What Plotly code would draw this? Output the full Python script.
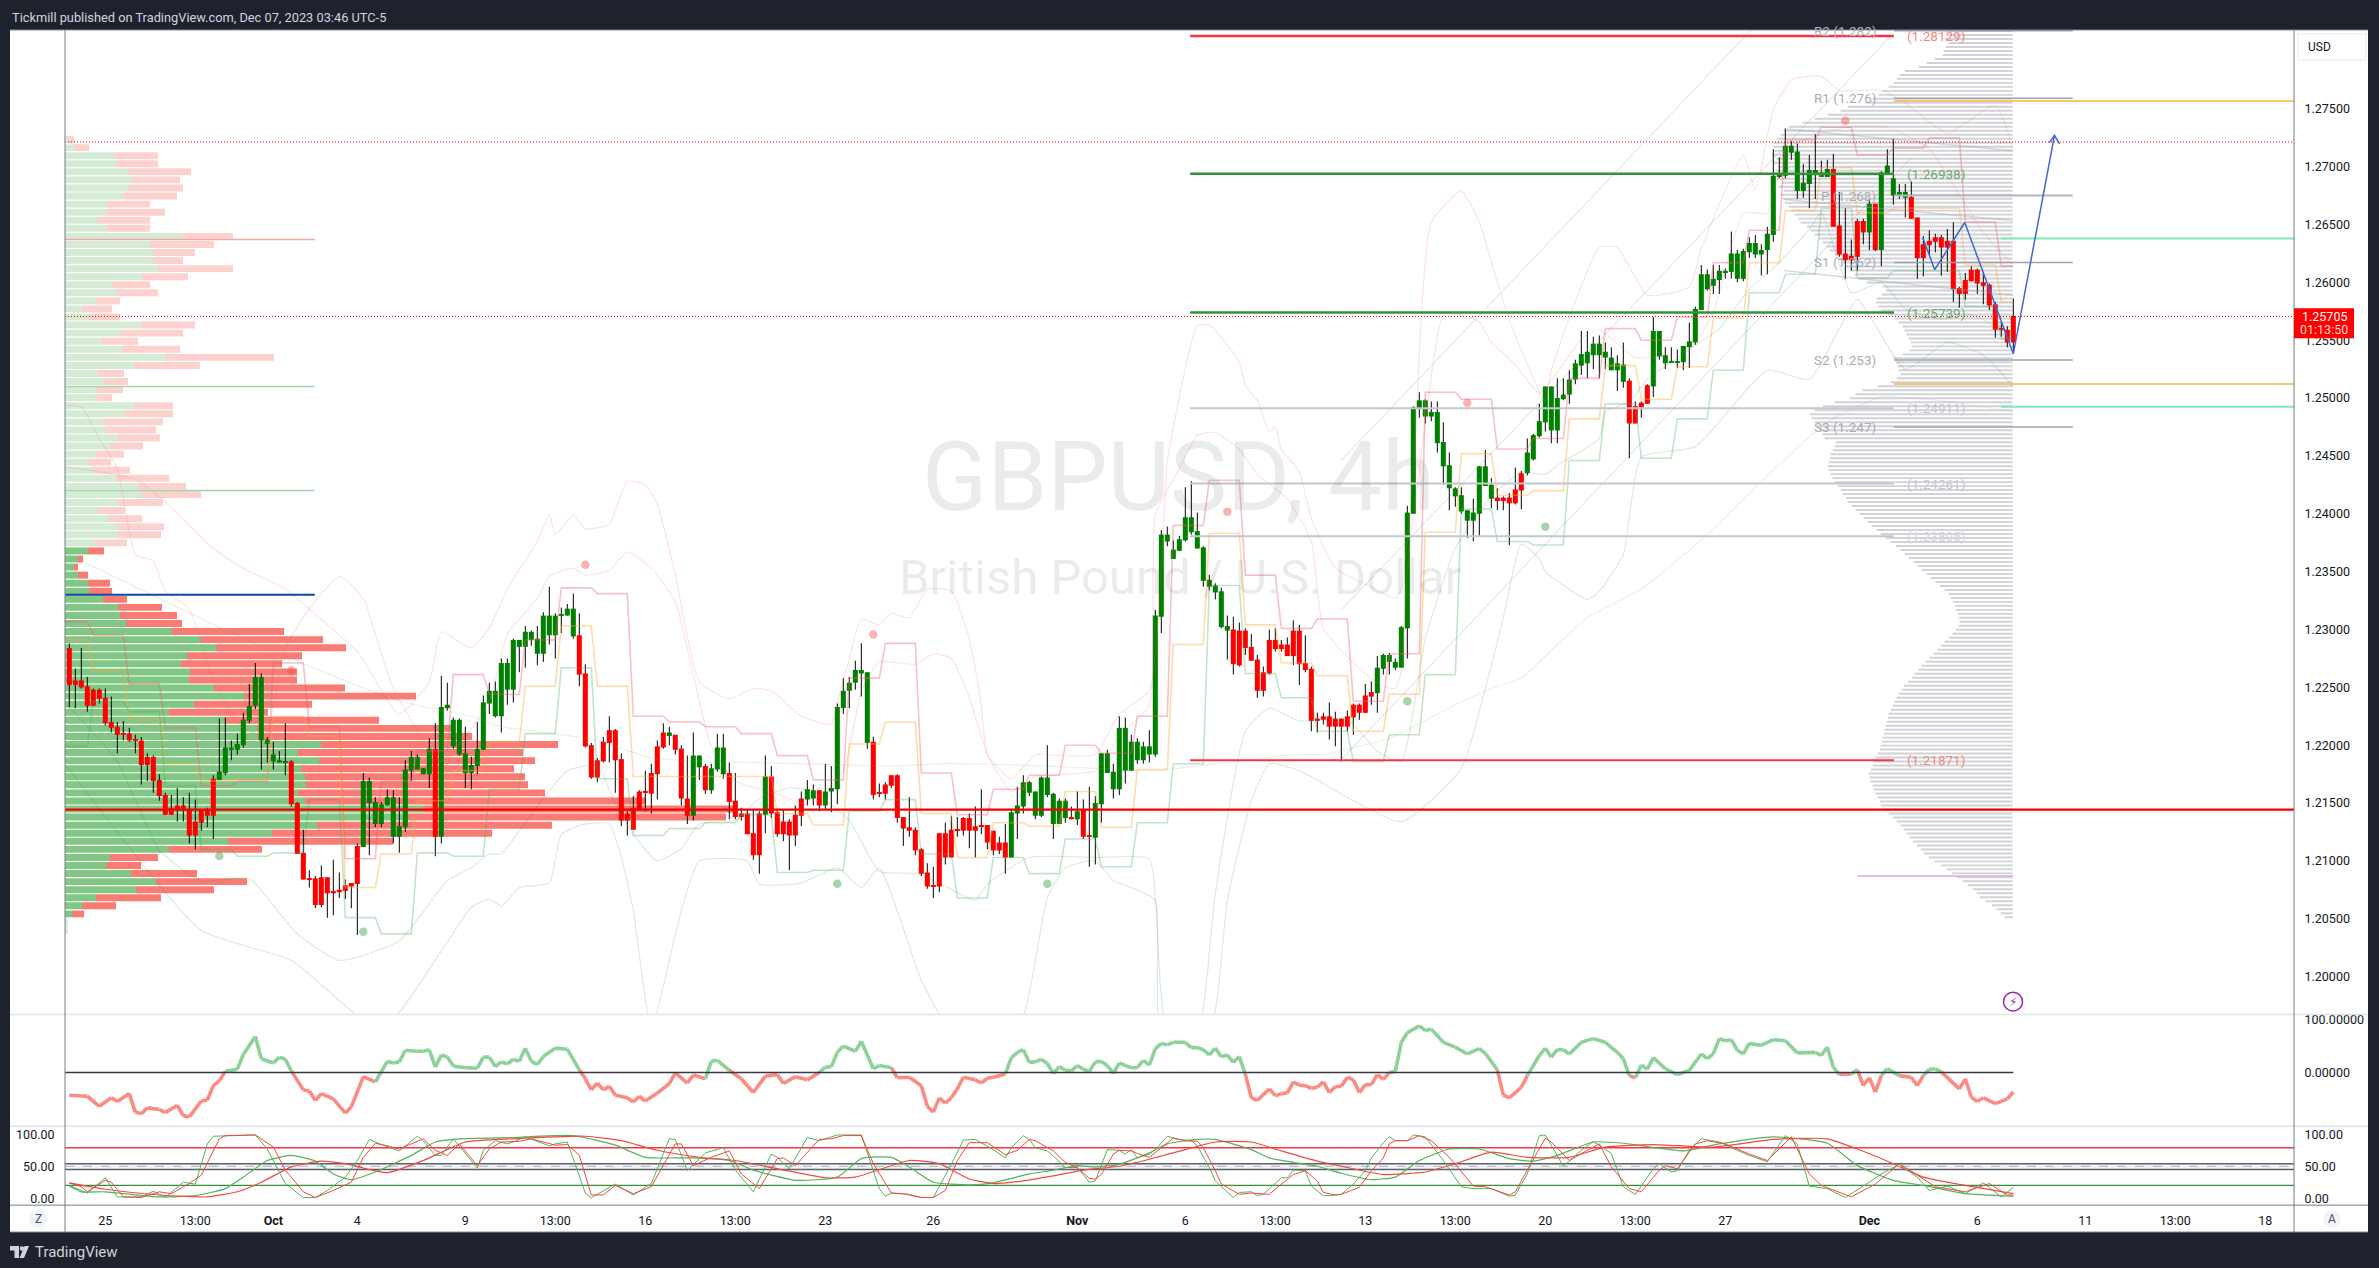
import plotly.graph_objects as go

W, H = 2379, 1268

# ---------- candles, in pips (price x 10000), one bar per 4 hours ----------
body_top = [
12284,12256,12256,12251,12248,12248,12241,12220,12216,12210,12210,12205,12204,12190,12190,12170,12157,12146,12148,12148,12144,12134,12144,12144,12171,
12177,12198,12198,12201,12222,12234,12259,12259,12205,12192,12187,12186,12186,12150,12107,12085,12085,12086,12086,12074,12075,12079,12081,12113,12169,
12169,12151,12149,12155,12155,12130,12179,12190,12190,12180,12197,12197,12233,12235,12222,12222,12193,12183,12197,12237,12247,12247,12271,12271,12291,
12291,12298,12298,12292,12312,12312,12312,12313,12318,12318,12295,12262,12200,12187,12203,12213,12213,12188,12141,12146,12160,12160,12176,12199,12211,
12211,12209,12197,12154,12191,12191,12182,12180,12198,12198,12176,12152,12141,12141,12124,12141,12173,12173,12142,12134,12134,12140,12154,12162,12161,
12161,12160,12163,12233,12247,12254,12265,12265,12263,12203,12159,12166,12174,12174,12138,12129,12127,12110,12090,12079,12124,12124,12127,12127,12137,
12137,12130,12131,12131,12126,12116,12116,12142,12148,12168,12168,12160,12172,12172,12158,12152,12152,12138,12143,12144,12122,12150,12193,12193,12177,
12215,12215,12203,12203,12199,12199,12312,12382,12382,12369,12378,12397,12397,12385,12371,12343,12338,12333,12303,12300,12299,12299,12285,12274,12263,
12291,12291,12287,12287,12299,12299,12271,12266,12223,12225,12225,12223,12223,12225,12235,12235,12243,12246,12267,12278,12278,12272,12302,12401,12492,
12498,12498,12488,12488,12462,12442,12422,12416,12403,12401,12441,12441,12425,12414,12414,12414,12421,12435,12453,12468,12480,12510,12510,12500,12503,
12516,12530,12538,12540,12547,12547,12540,12535,12530,12529,12515,12493,12496,12511,12558,12558,12537,12532,12532,12545,12549,12577,12607,12607,12603,
12610,12610,12625,12625,12627,12634,12634,12628,12642,12692,12694,12718,12718,12713,12686,12697,12697,12695,12698,12698,12649,12625,12623,12653,12653,
12668,12668,12695,12701,12690,12678,12678,12674,12656,12633,12636,12639,12639,12636,12636,12595,12602,12611,12611,12600,12598,12581,12560,12559,12571]
body_bot = [
12252,12252,12250,12234,12234,12240,12219,12215,12209,12209,12204,12204,12183,12183,12169,12156,12140,12140,12144,12144,12122,12122,12133,12139,12139,
12170,12176,12196,12196,12200,12221,12234,12204,12201,12186,12185,12185,12149,12106,12084,12084,12062,12062,12072,12072,12073,12074,12078,12080,12112,
12150,12132,12132,12148,12121,12121,12129,12178,12179,12175,12175,12121,12121,12232,12199,12192,12176,12176,12182,12196,12236,12225,12225,12248,12248,
12285,12285,12291,12279,12279,12295,12295,12312,12312,12294,12261,12199,12172,12172,12186,12202,12187,12135,12135,12127,12144,12159,12158,12175,12198,
12208,12196,12154,12139,12139,12181,12161,12161,12179,12175,12151,12138,12138,12123,12105,12105,12140,12141,12123,12123,12122,12122,12139,12153,12154,
12148,12148,12160,12162,12232,12247,12254,12262,12202,12157,12158,12158,12165,12137,12128,12126,12109,12089,12078,12078,12078,12103,12103,12126,12126,
12126,12126,12130,12116,12109,12109,12103,12103,12141,12147,12159,12139,12139,12157,12132,12132,12137,12136,12136,12121,12121,12120,12149,12176,12162,
12162,12178,12178,12187,12187,12192,12192,12311,12376,12361,12368,12377,12384,12370,12342,12337,12332,12302,12299,12270,12269,12284,12273,12247,12247,
12262,12283,12283,12277,12277,12270,12265,12221,12221,12222,12216,12216,12216,12216,12224,12228,12228,12242,12245,12266,12272,12267,12267,12301,12400,
12491,12484,12484,12461,12441,12422,12415,12402,12394,12394,12400,12424,12413,12411,12411,12409,12409,12420,12435,12447,12467,12479,12472,12472,12499,
12503,12516,12528,12530,12537,12537,12535,12524,12524,12514,12478,12478,12492,12495,12510,12536,12530,12531,12531,12531,12544,12548,12576,12594,12597,
12602,12608,12609,12603,12603,12626,12624,12624,12628,12641,12691,12692,12712,12679,12679,12685,12693,12691,12691,12648,12624,12619,12619,12622,12643,
12643,12628,12628,12694,12675,12675,12673,12655,12621,12621,12632,12635,12630,12630,12594,12590,12590,12601,12599,12597,12580,12559,12559,12548,12548]
wick_high = [
12288,12266,12284,12259,12249,12249,12249,12242,12220,12221,12215,12209,12207,12193,12191,12175,12159,12157,12163,12155,12159,12153,12144,12146,12174,
12223,12224,12204,12210,12228,12253,12271,12262,12207,12203,12195,12219,12187,12151,12127,12092,12087,12096,12086,12101,12090,12084,12081,12115,12176,
12172,12155,12151,12162,12161,12155,12187,12195,12192,12180,12206,12219,12260,12254,12224,12223,12216,12190,12220,12243,12254,12255,12275,12275,12292,
12291,12303,12299,12303,12315,12337,12314,12319,12322,12331,12314,12270,12202,12189,12207,12225,12214,12193,12143,12156,12161,12178,12184,12204,12219,
12216,12209,12200,12191,12211,12191,12184,12184,12210,12210,12185,12176,12146,12144,12144,12143,12191,12182,12144,12144,12136,12148,12160,12170,12166,
12161,12184,12182,12236,12258,12259,12273,12288,12263,12207,12167,12168,12174,12175,12138,12155,12129,12111,12098,12095,12124,12133,12139,12138,12138,
12141,12147,12162,12131,12126,12121,12132,12144,12164,12174,12169,12160,12173,12200,12159,12154,12154,12147,12160,12153,12164,12156,12193,12196,12184,
12225,12224,12209,12206,12203,12213,12317,12386,12389,12377,12381,12423,12428,12401,12372,12347,12340,12336,12312,12311,12306,12301,12296,12278,12268,
12300,12301,12291,12293,12308,12304,12295,12268,12228,12228,12237,12229,12223,12230,12236,12236,12253,12255,12277,12279,12280,12275,12303,12407,12493,
12505,12499,12497,12497,12479,12453,12423,12423,12403,12413,12441,12455,12431,12422,12415,12418,12440,12437,12465,12469,12495,12510,12510,12517,12517,
12524,12533,12558,12558,12553,12554,12548,12544,12537,12548,12517,12497,12497,12512,12570,12558,12544,12544,12542,12545,12565,12579,12615,12611,12615,
12615,12612,12644,12628,12629,12639,12641,12633,12648,12715,12708,12733,12722,12720,12702,12710,12728,12705,12706,12711,12678,12664,12637,12655,12655,
12672,12668,12696,12715,12724,12685,12685,12687,12656,12640,12645,12642,12641,12646,12652,12596,12608,12614,12612,12609,12599,12583,12566,12562,12586]
wick_low = [
12233,12232,12249,12229,12234,12236,12217,12211,12193,12204,12203,12193,12166,12169,12159,12152,12140,12140,12134,12134,12115,12110,12126,12129,12119,
12170,12174,12187,12192,12198,12219,12231,12179,12185,12179,12185,12174,12147,12106,12084,12077,12059,12060,12051,12053,12068,12067,12059,12036,12112,
12105,12129,12129,12148,12115,12107,12125,12169,12179,12175,12163,12104,12115,12230,12197,12191,12163,12162,12175,12196,12227,12224,12211,12235,12237,
12263,12267,12286,12269,12272,12287,12275,12297,12312,12292,12251,12198,12171,12168,12185,12185,12159,12130,12122,12127,12144,12143,12141,12153,12197,
12200,12192,12148,12132,12135,12170,12158,12158,12177,12171,12136,12136,12135,12123,12101,12089,12124,12137,12121,12117,12092,12113,12130,12148,12148,
12143,12145,12142,12149,12227,12232,12248,12242,12197,12153,12155,12153,12163,12133,12113,12121,12105,12087,12076,12068,12073,12097,12103,12121,12122,
12111,12103,12123,12110,12105,12106,12089,12103,12119,12141,12156,12136,12138,12155,12119,12132,12133,12136,12131,12119,12095,12097,12133,12176,12154,
12157,12167,12178,12184,12184,12185,12190,12297,12372,12361,12368,12376,12382,12370,12337,12334,12326,12301,12274,12261,12268,12278,12273,12241,12242,
12261,12281,12281,12277,12269,12252,12263,12212,12211,12218,12205,12199,12186,12212,12209,12222,12228,12235,12228,12261,12261,12265,12267,12275,12400,
12483,12478,12480,12453,12425,12403,12406,12400,12379,12376,12381,12424,12405,12403,12403,12373,12408,12404,12433,12446,12466,12471,12461,12461,12498,
12495,12512,12520,12517,12525,12517,12525,12524,12506,12509,12448,12478,12483,12495,12501,12533,12525,12531,12526,12524,12526,12546,12576,12593,12590,
12590,12603,12603,12600,12601,12621,12621,12606,12607,12635,12690,12690,12706,12672,12673,12664,12672,12691,12691,12648,12622,12603,12610,12610,12633,
12628,12627,12614,12694,12667,12672,12656,12655,12603,12605,12624,12626,12606,12609,12583,12578,12585,12601,12590,12581,12576,12552,12553,12544,12540]
candle_colors = (
"RRRRRRRRRRRRRRRRRRRRRRRRR"
"GGGGGGGGGGGGRRRRRRRRRRRRG"
"GGGGGGGGGGGRGGGGGGGGGGGGG"
"GGGGGGGGGGRRRRRRRRRRRRRRR"
"GRRRGGRGGGRRRRRRGRRRRRRGG"
"RGGGGGGGGRRRRRRRRRRRRRRRR"
"RRRRRRRGGGGGGGGGGRGRRGGGG"
"GGGGGGGGGGGGGGGGGGGRRRRRR"
"RRRRRRRRRRRRRRRRRRGGGGGGG"
"GGGGGGGGGGGGGRRRRRGGGGGGG"
"GGGGGGGGGGRRRRGGGGGGGGGGG"
"GGGGGGGGGGGGGGGGGGGRRRRRR"
"GRGGGGGRRRRRRRRRRRRRRRRRR")

# ---------- daily step levels, in pips, one level per 6 bars ----------
step_starts = [-2] + list(range(4, 323, 6))
step_high = [12307,12295,12253,12215,12165,12169,12271,12216,12102,12169,12195,12261,12244,12291,12336,12331,12225,12220,12216,12210,12191,12170,12258,12288,12176,12140,12162,12174,12200,12193,12225,12390,12429,12347,12301,12309,12238,12279,12505,12499,12456,12465,12517,12560,12550,12570,12617,12645,12723,12734,12710,12716,12725,12652,12614]
step_mid = [12291,12264,12222,12184,12169,12171,12225,12208,12077,12106,12152,12178,12203,12251,12303,12251,12173,12173,12173,12173,12141,12131,12201,12220,12141,12103,12133,12130,12160,12129,12179,12287,12383,12304,12271,12260,12212,12244,12384,12452,12416,12420,12482,12528,12499,12527,12569,12617,12662,12699,12660,12664,12664,12615,12583]
step_low = [12199,12238,12229,12165,12110,12104,12107,12153,12051,12037,12107,12104,12162,12210,12267,12171,12122,12128,12133,12140,12090,12092,12143,12153,12106,12068,12103,12089,12119,12095,12133,12184,12338,12262,12241,12212,12186,12209,12261,12404,12376,12373,12446,12495,12448,12482,12524,12591,12607,12664,12604,12610,12610,12579,12551]

# ---------- envelope curves: bar index and level in pips ----------
upper_outer_bars = [-1,11,16,24,29,36,41,48,55,60,62,67,70,73,78,80,81,84,86,90,93,96,98,101,105,110,114,117,122,127,128,130,132,135,137,140,143,147,150,152,153,157,161,165,171,175,180,182,183,186,188,190,193,195,196,198,200,201,202,205,207,211,216,221,222,224,227,232,235,238,241,243,246,247,255,258,263,270,272,279,281,284,287,292,295,302,306,313,321,324]
upper_outer_vals = [12441,12430,12410,12370,12353,12335,12313,12281,12227,12255,12298,12284,12301,12335,12376,12399,12382,12399,12387,12391,12428,12425,12408,12347,12255,12240,12249,12247,12225,12218,12238,12275,12309,12304,12314,12310,12335,12333,12292,12235,12192,12171,12192,12191,12192,12227,12247,12350,12445,12525,12563,12563,12546,12531,12511,12498,12471,12475,12456,12436,12396,12353,12339,12327,12335,12436,12652,12679,12652,12600,12554,12529,12497,12524,12630,12630,12589,12596,12629,12710,12680,12749,12775,12778,12766,12766,12755,12729,12753,12714]
upper_inner_bars = [-1,2,5,8,11,14,16,20,24,32,36,40,45,49,51,54,62,70,73,78,80,84,86,90,93,97,101,104,107,111,118,123,129,132,135,141,144,147,150,153,157,161,171,175,180,181,185,188,191,195,198,203,207,209,215,219,221,222,223,225,229,232,235,237,241,245,248,252,255,261,270,274,279,283,286,296,303,310,319,324]
upper_inner_vals = [12494,12492,12465,12439,12365,12359,12333,12318,12255,12195,12284,12318,12346,12327,12296,12249,12186,12238,12296,12327,12346,12353,12347,12351,12367,12353,12324,12261,12199,12169,12158,12149,12178,12247,12272,12270,12279,12275,12241,12192,12160,12173,12178,12208,12234,12399,12439,12468,12470,12456,12434,12413,12376,12301,12266,12251,12249,12264,12350,12436,12572,12572,12566,12548,12529,12504,12522,12551,12559,12535,12542,12574,12660,12660,12715,12734,12734,12715,12643,12615]
lower_inner_bars = [-1,8,15,22,30,33,38,45,55,63,67,70,72,75,79,83,88,91,94,98,102,105,111,115,120,124,130,135,141,146,151,153,160,171,180,181,183,188,191,196,200,205,213,218,222,226,231,237,242,246,248,255,256,260,263,270,275,280,285,290,292,297,302,306,312,317,324]
lower_inner_vals = [12238,12186,12109,12083,12085,12068,12037,12014,12031,12083,12094,12106,12106,12126,12154,12178,12182,12149,12123,12100,12111,12132,12135,12154,12163,12160,12135,12091,12089,12078,12066,12080,12103,12103,12102,12068,11954,11954,12072,12212,12232,12221,12222,12195,12186,12292,12370,12415,12436,12434,12442,12465,12488,12497,12516,12542,12560,12594,12617,12646,12660,12591,12600,12577,12568,12572,12553]
lower_outer_bars = [-1,22,37,52,62,67,70,72,75,80,82,86,90,92,94,97,100,102,105,113,115,122,128,132,135,142,147,158,163,166,171,174,177,181,182,190,193,197,200,205,222,232,236,239,242,245,246,253,255,259,262,271,283,290,295,298,306,313,319,324]
lower_outer_vals = [12186,12040,12014,11954,12022,12060,12067,12061,12077,12081,12123,12132,12132,12103,12057,11954,12014,12057,12100,12100,12080,12081,12094,12077,12094,11997,11954,11954,12068,12094,12100,12083,12077,12066,11954,11954,12066,12152,12184,12178,12134,12180,12249,12310,12374,12361,12350,12326,12333,12365,12449,12458,12524,12516,12560,12585,12525,12548,12537,12510]
basis_bars = [-1,30,55,67,72,81,88,97,105,122,137,146,163,181,191,205,209,220,231,237,242,248,253,262,273,282,293,302,313,324]
basis_vals = [12367,12290,12238,12225,12216,12210,12204,12189,12186,12184,12182,12184,12182,12178,12184,12192,12192,12206,12235,12249,12258,12287,12310,12335,12382,12428,12479,12501,12497,12488]

# ---------- pivot dots ----------
red_dot_bars = [37,86,134,193,233,296]
red_dot_prices = [1.22647,1.23560,1.22957,1.24017,1.24957,1.27397]
green_dot_bars = [25,49,128,163,223,246]
green_dot_prices = [1.21043,1.20388,1.20802,1.20802,1.22379,1.23888]

# ---------- volume profiles ----------
profile_green = [3,9,50,52,64,67,64,58,42,42,32,42,118,85,88,88,93,77,47,52,32,17,24,77,55,37,
57,101,69,33,39,31,32,69,59,38,40,53,45,30,23,29,51,72,76,53,33,43,53,52,29,
23,13,9,13,23,24,38,
53,55,61,107,136,151,122,116,125,124,149,179,129,104,161,192,192,256,233,254,236,240,241,233,240,358,342,252,207,163,104,45,41,66,91,71,31,17,7,3,3]
profile_total = [9,24,93,93,126,115,118,112,85,100,85,85,168,149,130,118,168,123,85,93,55,47,55,130,118,73,
115,209,135,59,63,58,47,108,108,98,91,95,78,59,46,65,104,121,136,98,60,77,99,96,62,
39,18,13,23,45,47,62,
97,112,117,219,258,281,237,217,232,232,280,351,247,203,314,388,407,493,458,470,449,460,463,480,581,668,661,487,427,328,197,93,76,132,182,149,96,51,19,3,3]
profile_pale_rows = set(list(range(51)) + [97, 98])

gray_profile = [67,66,68,64,67,69,70, 78,86,94, 108,113,116,119, 124,130,134,140,147, 165,172,185,198,210,224,
229,232,236,239, 240,238,241,236,239,235,237,233,236,231,234,229,232,230,228,
224,222,218,214,212,206,202,198,194,190, 186,183,178,175,170,166,162,158,154,146,130,
127,131,136,137,134,132, 125,118,114,110,108,106,104,102,101,103, 110,119,117,115,114,112,116,122,135,
150,157,163,178,190,198,203, 201,198,196,193,190,188, 177,178,180,182,183,184,185,184,182,180,178,175,172,170,167,165,
161,157,153,149,145,141,136,132, 127,122,117,112,108,104,99, 95,91,86,82,77,73,68,64, 62,60,58,57,55,54,53,
54,57,60,64,68,72,75,79, 83,87,91,94,98,101,105,109, 111,114,116,118,120,122,124, 125,126,127,128,129,130,131,132,
133,135,137,139,140,142,144, 143,142,140,139,137,135,133,132, 128,124,120,116,112,109, 106,103,100,96,92,89,
84,78,72,66,61,56, 50,45,40,36,33, 27,21,16,12,8]

# ---------- price levels: price, from bar, to bar, colour, width ----------
levels = [
 (1.28129,186.8,304.1,"#f23645",2.5),(1.26938,186.8,304.1,"#388e3c",2.5),(1.25739,186.8,304.1,"#388e3c",2.5),
 (1.24911,186.8,304.1,"#c4c6cc",2),(1.24261,186.8,304.1,"#c4c6cc",2),(1.23805,186.8,304.1,"#c4c6cc",2),
 (1.21871,186.8,304.1,"#f23645",2),
 (1.28175,304.1,333.9,"#a0a3ad",1.5),(1.27591,304.1,333.9,"#a0a3ad",1.5),(1.26750,304.1,333.9,"#b2b5be",2),
 (1.26172,304.1,333.9,"#a0a3ad",1.5),(1.25328,304.1,333.9,"#a0a3ad",1.5),(1.24750,304.1,333.9,"#a0a3ad",1.5),
 (1.27566,304.1,370.8,"#ffb13d",1.5),(1.25121,304.1,370.8,"#ffb13d",1.5),
 (1.26379,322.0,370.8,"#7fe8b5",2),(1.24925,322.0,370.8,"#7fe8b5",2),
 (1.20870,298.0,324.0,"#d6a6e0",1.5),
 (1.26370,-0.7,40.9,"#f4a6a0",1.5),(1.25100,-0.7,40.9,"#a5d6a7",1.5),(1.24200,-0.7,40.9,"#a5d6a7",1.5),
 (1.23300,-0.7,40.9,"#0d47a1",2),
 (1.21443,-0.7,370.8,"#f50000",2.3),
]
level_labels = [
 ("R2 (1.282)",301.4,1.28175,"right","#b2b5be"),("R1 (1.276)",301.4,1.27591,"right","#a9acb6"),
 ("P (1.268)",301.4,1.26750,"right","#a9acb6"),("S1 (1.262)",301.4,1.26172,"right","#a9acb6"),
 ("S2 (1.253)",301.4,1.25328,"right","#a9acb6"),("S3 (1.247)",301.4,1.24750,"right","#a9acb6"),
 ("(1.28129)",306,1.28129,"left","#f5877f"),("(1.26938)",306,1.26938,"left","#6aa86d"),
 ("(1.25739)",306,1.25739,"left","#6aa86d"),("(1.24911)",306,1.24911,"left","#c4c6cc"),
 ("(1.24261)",306,1.24261,"left","#c4c6cc"),("(1.23805)",306,1.23805,"left","#d5d6db"),
 ("(1.21871)",306,1.21871,"left","#f5877f"),
]
trend_lines = [
 ((211.9,280.3),(1.24457,1.28181)),((211.9,303.6),(1.23164,1.28129)),((211.9,307.0),(1.21871,1.27078)),
]
fall_lines = [
 ((285.8,323.9),(1.27328,1.27138)),((285.8,323.9),(1.26716,1.26534)),((285.8,323.9),(1.26103,1.25888)),
]
path_bars = [308.9,310.9,315.9,324.0,330.86]
path_prices = [1.26388,1.26109,1.26517,1.25382,1.27270]
arrow_bars = [330.0,330.86,331.7]
arrow_prices = [1.27207,1.27270,1.27196]

# ---------- first oscillator ----------
osc_bars = [0,3,5,7,8,10,11,12,13,15,16,18,19,20,22,23,24,25,26,28,29,31,32,34,35,36,37,39,40,41,42,44,46,47,49,51,53,54,55,56,58,59,60,61,62,63,64,66,68,69,70,71,72,73,74,75,76,77,78,79,81,83,85,86,87,88,89,90,91,93,94,95,96,98,100,101,103,104,106,107,108,110,112,114,116,118,119,121,123,125,126,127,128,129,131,132,134,135,137,138,140,142,143,144,145,146,
147,148,149,151,152,153,154,156,157,158,159,160,161,162,163,164,165,166,167,168,169,170,171,172,173,174,175,176,177,178,179,180,181,182,183,184,186,187,188,189,190,191,192,193,194,195,196,197,198,200,201,202,203,204,205,206,207,208,209,210,211,212,213,214,215,216,217,218,219,220,221,222,223,225,
226,227,229,231,233,235,236,238,239,240,242,243,245,246,247,248,249,250,252,254,256,258,259,260,261,262,263,264,266,268,270,272,273,274,275,276,277,278,279,280,282,284,286,288,291,292,293,294,295,297,298,299,300,301,302,303,305,307,308,309,310,311,312,315,316,317,318,319,321,323,324]
osc_vals = [-43,-45,-64,-48,-55,-40,-75,-78,-67,-70,-76,-62,-82,-84,-54,-52,-25,-16,2,6,34,68,26,18,29,25,3,-33,-35,-53,-40,-50,-77,-65,-8,-18,21,18,20,42,40,40,43,10,33,29,12,9,8,29,29,11,20,16,25,21,46,21,15,30,46,44,5,-12,-33,-20,-33,-26,-43,-48,-56,-45,-54,-39,-21,-1,-20,-5,-12,21,23,4,-12,-38,-7,-4,-21,-8,-14,0,10,11,38,50,40,59,7,13,9,-10,-9,-25,-64,-75,-48,-58,
-48,-31,-9,-14,-20,-11,-9,-3,28,38,43,19,20,25,17,-2,11,4,3,13,6,2,20,21,13,-2,18,13,9,9,23,14,45,55,52,57,57,47,47,43,33,46,30,33,19,30,-3,-48,-53,-31,-44,-40,-39,-18,-24,-25,-30,-28,-18,-38,-27,-26,-9,-14,-38,-23,-23,-4,-13,0,2,57,75,88,
79,82,57,48,35,45,36,5,-43,-48,-28,-6,32,46,29,43,43,35,57,64,57,38,26,-6,-10,14,6,28,7,-4,4,35,26,35,64,60,62,42,35,55,51,62,60,37,38,32,48,10,-4,-3,5,-25,-10,-37,-6,7,-6,-9,-25,-6,6,7,1,-31,-12,-47,-55,-48,-59,-50,-37]

# ---------- second oscillator ----------
fast_green_bars = [0,3,6,8,12,14,16,19,21,23,24,31,33,36,39,41,43,46,48,50,52,55,58,59,61,62,64,68,69,71,73,74,76,80,81,83,86,87,91,94,97,100,101,103,106,109,111,114,117,118,120,123,125,128,132,135,136,137,140,142,144,147,149,151,154,156,157,159,160,161,163,164,166,168,169,170,171,173,175,176,177,178,180,181,183,185,187,188,190,191,194,195,197,198,199,202,203,204,206,207,209,210,212,214,216,217,219,220,221,223,224,226,229,232,234,237,240,241,243,245,246,249,252,254,257,259,261,264,265,267,268,270,272,275,278,280,283,286,288,290,293,296,300,302,305,308,310,313,316,319,322,324]
fast_green_vals = [20,8,32,2,2,11,1,25,22,85,97,99,77,23,1,1,12,33,59,92,84,74,97,90,67,67,93,47,75,90,85,88,96,82,85,88,8,1,22,5,23,93,92,43,71,79,44,10,69,64,46,95,90,99,99,15,3,8,6,1,1,53,91,92,76,63,79,98,92,79,74,66,48,48,37,25,27,76,75,69,76,63,69,76,97,92,90,82,48,27,1,9,10,4,6,32,32,44,43,19,4,4,6,22,43,63,87,96,90,90,99,96,59,18,15,15,3,5,38,98,99,50,75,89,70,18,6,46,54,41,43,75,93,88,75,67,57,98,85,19,15,1,25,38,53,33,12,19,7,24,2,17]
fast_red_bars = [0,2,3,6,7,9,12,15,17,20,22,25,26,31,34,36,39,41,44,47,49,51,53,55,57,59,61,63,65,68,70,72,75,77,81,83,85,87,89,91,94,97,101,102,104,107,110,112,115,118,119,121,125,127,129,132,134,137,139,142,144,146,148,150,153,156,158,160,161,164,166,168,170,171,172,174,175,176,177,178,180,182,184,186,188,189,191,192,195,197,200,202,204,206,208,209,211,212,215,217,219,220,221,223,225,227,230,234,236,240,241,243,246,247,250,253,255,257,260,262,265,266,268,271,273,276,280,283,287,290,292,297,301,305,308,311,316,320,323,324]
fast_red_vals = [24,18,10,28,25,2,1,10,7,23,36,93,98,99,80,44,10,1,12,25,64,86,82,77,85,93,75,67,85,51,77,88,89,93,83,84,67,5,5,20,7,18,85,85,51,64,74,38,15,62,63,51,92,93,98,98,54,8,7,1,1,12,59,87,87,68,75,92,90,74,56,48,31,30,37,69,75,74,74,70,64,79,94,90,89,79,43,22,6,8,6,22,37,43,27,9,5,6,17,43,63,85,90,90,98,90,64,19,18,5,10,44,94,88,59,75,85,49,15,10,44,51,46,85,90,85,69,59,96,38,20,2,22,54,36,18,10,23,5,5]
slow_green_bars = [0,2,6,15,21,26,29,33,37,41,44,47,51,57,61,65,74,84,91,96,104,110,114,121,128,132,137,140,144,150,154,157,160,164,168,171,175,180,183,188,191,197,200,204,208,212,217,221,225,230,235,240,244,248,254,259,269,275,284,293,298,304,309,316,324]
slow_green_vals = [19,10,10,2,4,15,33,59,67,58,38,29,41,67,88,93,95,98,83,64,63,59,44,28,33,62,64,49,25,21,24,31,38,44,51,49,53,71,85,92,92,76,63,56,50,39,29,33,59,77,77,62,58,67,88,86,74,85,96,86,51,28,20,7,3]
slow_red_bars = [0,6,15,23,28,32,37,42,46,53,59,66,74,86,92,98,105,111,118,126,131,140,145,150,154,158,164,169,175,180,186,191,197,202,208,213,219,226,231,237,243,250,256,264,274,284,293,298,304,309,316,324]
slow_red_vals = [24,14,5,2,10,25,49,58,54,40,59,88,93,97,90,75,64,59,46,32,33,59,54,30,23,26,35,44,50,61,76,88,88,74,58,48,37,41,54,72,64,64,80,84,80,92,93,77,54,33,20,7]
stoch_levels = [(79,"#f23645",1.3,"solid"),(20,"#388e3c",1.3,"solid"),(54,"#5d606b",1.5,"solid"),(45,"#5d606b",1.5,"solid"),(50,"#b2b5be",1,"dash")]

# ---------- axis labels ----------
time_tick_bars = [6,21,34,48,66,81,96,111,126,144,168,186,201,216,231,246,261,276,300,318,336,351,366]
time_tick_text = ["25","13:00","<b>Oct</b>","4","9","13:00","16","13:00","23","26","<b>Nov</b>","6","13:00","13","13:00","20","13:00","27","<b>Dec</b>","6","11","13:00","18"]
price_ticks = [1.20,1.205,1.21,1.215,1.22,1.225,1.23,1.235,1.24,1.245,1.25,1.255,1.26,1.265,1.27,1.275]
osc_ticks = [100, 0]
stoch_ticks = [100, 50, 0]

FONT = "Roboto, Inter, sans-serif"
AX_L, AX_R = -0.72, 370.78
fx = lambda p: p / W
fy = lambda p: 1 - p / H

fig = go.Figure()

# profile rows (volume drawn in bar-width units from the chart edges)
row_low, row_step = 1.20403, 0.000697
n_rows = len(profile_green)
row_prices = [row_low + row_step * (n_rows - 1 - k) for k in range(n_rows)]
VOL_UNIT = 1 / 6
pg_c = ["#d5ebd6" if k in profile_pale_rows else "#81c784" for k in range(n_rows)]
pr_c = ["#fcd2cf" if k in profile_pale_rows else "#f87c74" for k in range(n_rows)]
fig.add_bar(orientation="h", y=row_prices, x=[v * VOL_UNIT for v in profile_green], base=AX_L,
            width=0.00060, marker=dict(color=pg_c, line_width=0))
fig.add_bar(orientation="h", y=row_prices,
            x=[(t - g) * VOL_UNIT for g, t in zip(profile_green, profile_total)],
            base=[AX_L + g * VOL_UNIT for g in profile_green],
            width=0.00060, marker=dict(color=pr_c, line_width=0))
gray_top, gray_step = 1.28172, 0.000345
gray_prices = [gray_top - gray_step * k for k in range(len(gray_profile))]
fig.add_bar(orientation="h", y=gray_prices, x=[-v * VOL_UNIT for v in gray_profile], base=323.9,
            width=0.00017, marker=dict(color="rgba(178,181,190,0.6)", line_width=0))

# candles: wicks then bodies (slight alpha keeps the 1px wick from being widened)
bars = list(range(len(body_top)))
fig.add_bar(x=bars, base=[v / 1e4 for v in wick_low],
            y=[(h - l) / 1e4 for h, l in zip(wick_high, wick_low)],
            width=1 / 6, marker=dict(color="rgba(0,0,0,0.99)", line_width=0))
fig.add_bar(x=bars, base=[v / 1e4 for v in body_bot],
            y=[max(t - b, 1) / 1e4 for t, b in zip(body_top, body_bot)],
            width=0.84, marker=dict(color=["#ff0000" if c == "R" else "#008000" for c in candle_colors], line_width=0))

def line(x, y, color, width=1, dash="solid", ya="y", smooth=False, **kw):
    ln = dict(color=color, width=width, dash=dash)
    if smooth:
        ln.update(shape="spline", smoothing=0.5)
    fig.add_scatter(x=x, y=y, mode="lines", yaxis=ya, line=ln, **kw)

# envelopes
for bx, vals, col in [(upper_outer_bars, upper_outer_vals, "rgba(255,90,90,0.17)"),
                      (upper_inner_bars, upper_inner_vals, "rgba(255,90,90,0.17)"),
                      (lower_inner_bars, lower_inner_vals, "rgba(40,140,60,0.17)"),
                      (lower_outer_bars, lower_outer_vals, "rgba(40,140,60,0.17)"),
                      (basis_bars, basis_vals, "rgba(130,160,110,0.16)")]:
    line(bx, [v / 1e4 for v in vals], col, 1.2, smooth=True)

# daily steps
for levels_, col in [(step_high, "rgba(240,90,110,0.38)"), (step_mid, "rgba(255,170,60,0.42)"), (step_low, "rgba(70,170,80,0.32)")]:
    sx, sy = [], []
    for s, v in zip(step_starts, levels_):
        sx += [s, min(s + 5, 324)]
        sy += [v / 1e4, v / 1e4]
    line(sx, sy, col, 1.6)

# drawn lines
for bx, py in trend_lines:
    line(list(bx), list(py), "rgba(120,123,134,0.28)", 1)
for bx, py in fall_lines:
    line(list(bx), list(py), "rgba(160,163,173,0.4)", 1.5)

for price, b0, b1, col, wd in levels:
    line([b0, b1], [price, price], col, wd)
for price in (1.27213, 1.25705):
    line([AX_L, AX_R], [price, price], "#ff0000", 1, "1px,2px")

line(path_bars, path_prices, "#3f67d2", 1.5)
line(arrow_bars, arrow_prices, "#3f67d2", 1.5)

fig.add_scatter(x=red_dot_bars, y=red_dot_prices, mode="markers", marker=dict(size=8.5, color="rgba(255,70,70,0.42)"))
fig.add_scatter(x=green_dot_bars, y=green_dot_prices, mode="markers", marker=dict(size=8.5, color="rgba(60,160,70,0.45)"))

# oscillator one
gx, gy, rx, ry = [], [], [], []
for k in range(len(osc_bars) - 1):
    a, b = osc_vals[k], osc_vals[k + 1]
    if a + b >= 0:
        gx += [osc_bars[k], osc_bars[k + 1], None]; gy += [a, b, None]
    else:
        rx += [osc_bars[k], osc_bars[k + 1], None]; ry += [a, b, None]
line(rx, ry, "#fb8b83", 3.6, ya="y2")
line(gx, gy, "#8fd19a", 3.6, ya="y2")
line([AX_L, 324], [0, 0], "#363a45", 1.5, ya="y2")

# oscillator two
fig.add_scatter(x=[AX_L, AX_R, AX_R, AX_L], y=[54, 54, 45, 45], yaxis="y3", mode="lines", fill="toself",
                fillcolor="rgba(120,123,170,0.09)", line=dict(width=0))
for lv, col, wd, dsh in stoch_levels:
    line([AX_L, AX_R], [lv, lv], col, wd, dsh, ya="y3")
line(slow_green_bars, slow_green_vals, "#55b259", 1.2, ya="y3", smooth=True)
line(slow_red_bars, slow_red_vals, "#f2493f", 1.2, ya="y3", smooth=True)
line(fast_green_bars, fast_green_vals, "#55b259", 1, ya="y4")
line(fast_red_bars, fast_red_vals, "#f2493f", 1, ya="y4")

# ---------- frame ----------
def rect(x0, y0, x1, y1, fill=None, lc=None, lw=0, layer="below"):
    return dict(type="rect", xref="paper", yref="paper", x0=fx(x0), x1=fx(x1), y0=fy(y0), y1=fy(y1),
                fillcolor=fill, line=dict(color=lc, width=lw) if lc else dict(width=0), layer=layer)
def seg(x0, y0, x1, y1, col, lw=1):
    return dict(type="line", xref="paper", yref="paper", x0=fx(x0), x1=fx(x1), y0=fy(y0), y1=fy(y1),
                line=dict(color=col, width=lw), layer="above")
logo = (f"M {fx(10)},{fy(1246)} H {fx(19)} V {fy(1258)} H {fx(14.5)} V {fy(1250.5)} H {fx(10)} Z "
        f"M {fx(29)},{fy(1246)} L {fx(24)},{fy(1258)} H {fx(19.5)} L {fx(24.5)},{fy(1246)} Z")
shapes = [
    rect(10, 27, 2368, 1232, "#ffffff"),
    seg(10, 1014, 2368, 1014, "#e0e3eb", 1.5), seg(10, 1126, 2368, 1126, "#e0e3eb", 1.5),
    seg(10, 1205, 2368, 1205, "#787b86", 1), seg(10, 1232, 2368, 1232, "#787b86", 1),
    seg(10, 27, 2368, 27, "#787b86", 1),
    seg(65, 27, 65, 1232, "#787b86", 1), seg(2294, 27, 2294, 1232, "#787b86", 1),
    rect(2294, 306, 2354, 336, "#ff0000", layer="above"),
    rect(2298, 31, 2366, 57, "#ffffff", "#f0f3fa", 2, layer="above"),
    dict(type="circle", xref="paper", yref="paper", x0=fx(29), x1=fx(47), y0=fy(1228), y1=fy(1210), fillcolor="#f0f3fa", line_width=0, layer="above"),
    dict(type="circle", xref="paper", yref="paper", x0=fx(2323), x1=fx(2341), y0=fy(1228), y1=fy(1210), fillcolor="#f0f3fa", line_width=0, layer="above"),
    dict(type="circle", xref="paper", yref="paper", x0=fx(2003.5), x1=fx(2022.5), y0=fy(1010.5), y1=fy(991.5), fillcolor="#ffffff", line=dict(color="#9c27b0", width=1.5), layer="above"),
    dict(type="path", path=logo, xref="paper", yref="paper", fillcolor="#d1d4dc", line_width=0, layer="above"),
    dict(type="circle", xref="paper", yref="paper", x0=fx(19.8), x1=fx(24.2), y0=fy(1250.6), y1=fy(1246.2), fillcolor="#d1d4dc", line_width=0, layer="above"),
]

def note(px_x, px_y, text, size, color, anchor="left", family=FONT):
    return dict(xref="paper", yref="paper", x=fx(px_x), y=fy(px_y), text=text, showarrow=False, xanchor=anchor,
                yanchor="middle", font=dict(size=size, color=color, family=family))
annotations = [
    note(10, 15, "Tickmill published on TradingView.com, Dec 07, 2023 03:46 UTC-5", 12.8, "#d1d4dc"),
    note(33, 1252, "TradingView", 15, "#d1d4dc"),
    note(38, 1219, "Z", 12, "#50535e", "center"),
    note(2332, 1219, "A", 12, "#50535e", "center"),
    note(2319, 44, "USD", 12, "#131722", "center"),
    note(2324, 314, "1.25705", 12.5, "#ffffff", "center"),
    note(2324, 327, "01:13:50", 12.5, "#ffd6d6", "center"),
    note(2013, 1001, "⚡", 12, "#9c27b0", "center", "DejaVu Sans"),
    note(1178, 475, "GBPUSD, 4h", 96, "rgba(42,46,57,0.095)", "center", "Roboto"),
    note(1180, 576, "British Pound / U.S. Dollar", 49, "rgba(42,46,57,0.095)", "center", "Roboto"),
]
for txt, bx, price, anc, col in level_labels:
    annotations.append(dict(x=bx, y=price, xref="x", yref="y", text=txt, showarrow=False, xanchor=anc, yanchor="middle",
                            font=dict(size=13.5, color=col, family=FONT)))

def yaxis(dom, rng, vals, fmt, side="right", **kw):
    return dict(domain=dom, range=rng, tickmode="array", tickvals=vals, ticktext=[fmt % v for v in vals], side=side,
                showgrid=False, zeroline=False, showline=False, ticks="outside", ticklen=7, tickcolor="rgba(0,0,0,0)",
                tickfont=dict(size=12.5, color="#131722", family=FONT), anchor="x", **kw)

fig.update_layout(
    width=W, height=H, autosize=False, margin=dict(l=0, r=0, t=0, b=0, pad=0),
    paper_bgcolor="#1e222d", plot_bgcolor="rgba(0,0,0,0)", showlegend=False, barmode="overlay", hovermode=False,
    xaxis=dict(domain=[fx(65), fx(2294)], range=[AX_L, AX_R], tickmode="array", tickvals=time_tick_bars, ticktext=time_tick_text,
               showgrid=False, zeroline=False, showline=False, ticks="outside", ticklen=4, tickcolor="rgba(0,0,0,0)",
               tickangle=0, tickfont=dict(size=12.5, color="#131722", family=FONT), anchor="y3"),
    yaxis=yaxis([fy(1014), fy(27)], [1.19672, 1.28181], price_ticks, "%.5f"),
    yaxis2=yaxis([fy(1126), fy(1014)], [-101.9, 109.4], osc_ticks, "%.5f"),
    yaxis3=yaxis([fy(1205), fy(1126)], [-10.9, 112.5], stoch_ticks, "%.2f", side="left"),
    yaxis4=yaxis([fy(1205), fy(1126)], [-10.9, 112.5], stoch_ticks, "%.2f", overlaying="y3"),
    shapes=shapes, annotations=annotations,
)
fig.write_html("out.html", config={"displayModeBar": False},
               post_script="document.body.style.margin='0';document.body.style.background='#1e222d';document.documentElement.style.overflow='hidden';")
